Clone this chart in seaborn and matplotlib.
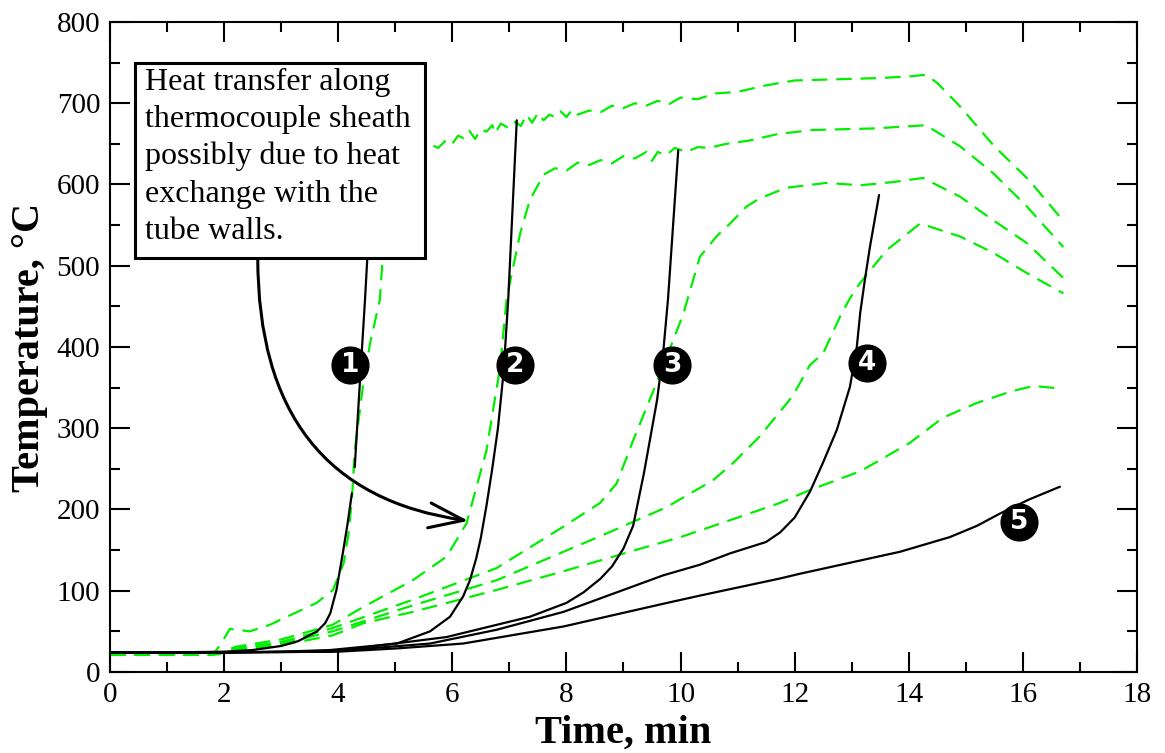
import numpy as np
import pandas as pd
import matplotlib
matplotlib.use("Agg")
import matplotlib.pyplot as plt
from matplotlib.patches import Rectangle
import seaborn as sns

# ---- dados ----
# curvas pretas (sólidas), temperatura x tempo
b1a_t = [0, 1, 2, 2.5, 3, 3.3, 3.63, 3.77, 3.86, 3.97, 4.09, 4.17, 4.24]
b1a_T = [24, 24, 25, 27, 32, 38, 50, 60, 72, 101, 150, 185, 220]
b1b_t = [4.29, 4.38, 4.47, 4.55, 4.62]
b1b_T = [252, 356, 458, 560, 650]

b2_t = [0, 2, 3, 3.86, 5.03, 5.61, 5.96, 6.19, 6.31, 6.42, 6.5, 6.6, 6.7, 6.8, 6.9, 6.98, 7.13]
b2_T = [24, 24, 25, 27, 35, 50, 68, 93, 113, 140, 165, 205, 250, 300, 370, 458, 679]

b3_t = [0, 2, 3.86, 5.9, 7.36, 8.0, 8.3, 8.6, 8.8, 9.0, 9.17, 9.36, 9.59, 9.7, 9.78, 9.96]
b3_T = [24, 24, 25, 43, 68, 85, 98, 115, 130, 152, 180, 245, 335, 396, 458, 642]

b4_t = [0, 2, 4, 5.61, 6.78, 7.95, 9.7, 10.34, 10.87, 11.5, 11.75, 12.0, 12.27, 12.5, 12.74, 12.97, 13.09, 13.15, 13.23, 13.32, 13.48]
b4_T = [24, 24, 26, 35, 52, 74, 119, 132, 146, 160, 172, 190, 222, 258, 298, 351, 400, 442, 482, 523, 587]

b5_t = [0, 2, 4, 5.03, 6.19, 7.95, 9.7, 10.34, 11.74, 12.1, 13.85, 14.72, 15.2, 15.6, 16.1, 16.65]
b5_T = [24, 24, 25, 29, 35, 56, 84, 94, 115, 121, 148, 166, 180, 195, 212, 228]

# curvas verdes (tracejadas)
g1_t = [0, 1.8, 1.95, 2.1, 2.45, 2.8, 3.04, 3.62, 3.91, 4.1, 4.18, 4.24, 4.29, 4.44, 4.56, 4.73, 4.78,
        4.9, 5.0, 5.08, 5.3, 5.45, 5.6, 5.75, 5.9, 6.0, 6.1, 6.2, 6.3, 6.4, 6.5, 6.6, 6.7, 6.75,
        6.85, 7.0, 7.1, 7.2, 7.3, 7.4, 7.5, 7.6, 7.7, 7.8, 7.9, 8.0, 8.1, 8.2, 8.4, 8.6, 8.8,
        9.0, 9.2, 9.4, 9.6, 9.8, 10.0, 10.3, 10.6, 11.0, 11.5, 12.0, 12.5, 13.0, 13.5, 14.0,
        14.3, 14.5, 14.9, 15.5, 16.1, 16.7]
g1_T = [21, 21, 35, 53, 50, 58, 66, 85, 101, 135, 170, 212, 273, 355, 405, 458, 510,
        590, 625, 642, 648, 641, 650, 645, 655, 650, 660, 657, 666, 656, 668, 665, 673, 663,
        675, 669, 677, 672, 686, 676, 688, 679, 686, 683, 690, 683, 692, 686, 691, 689, 697,
        694, 700, 697, 703, 699, 707, 705, 712, 714, 722, 728, 729, 730, 731, 733,
        735, 725, 696, 647, 606, 556]

g2_t = [0, 1.8, 2.0, 2.2, 3.0, 3.9, 4.44, 5.31, 5.9, 6.25, 6.6, 6.84, 6.95, 7.01, 7.19, 7.36, 7.6,
        7.8, 8.0, 8.2, 8.4, 8.6, 8.8, 9.0, 9.2, 9.4, 9.5, 9.6, 9.75, 9.9, 10.1, 10.3, 10.5,
        10.8, 11.2, 11.7, 12.3, 13.4, 14.3, 14.9, 15.48, 16.07, 16.71]
g2_T = [21, 21, 25, 31, 40, 58, 80, 113, 142, 183, 273, 376, 458, 479, 540, 581, 612,
        620, 617, 627, 624, 630, 626, 635, 632, 640, 629, 640, 636, 645, 640, 646, 645,
        650, 654, 662, 667, 669, 673, 647, 614, 573, 523]

g3_t = [0, 1.9, 2.1, 3.0, 3.9, 5.31, 6.78, 7.95, 8.59, 8.88, 9.17, 9.53, 9.76, 10.05, 10.17,
        10.34, 10.63, 10.87, 11.16, 11.39, 11.86, 12.56, 13.15, 13.73, 14.25, 14.9, 15.48, 16.07, 16.71]
g3_T = [21, 22, 28, 37, 54, 89, 128, 179, 208, 232, 285, 347, 388, 441, 470,
        511, 536, 552, 573, 583, 596, 602, 599, 603, 608, 585, 556, 528, 485]

g4_t = [0, 1.9, 2.1, 3.0, 3.9, 5.31, 6.78, 7.95, 8.59, 9.11, 9.76, 10.57, 10.92, 11.39, 11.97,
        12.27, 12.5, 12.8, 12.97, 13.15, 13.61, 14.2, 14.9, 15.48, 16.07, 16.71]
g4_T = [21, 22, 27, 35, 50, 82, 113, 148, 167, 183, 203, 236, 257, 290, 340,
        378, 392, 438, 460, 479, 519, 552, 536, 516, 491, 466]

g5_t = [0, 1.9, 2.1, 3.0, 3.9, 4.44, 5.31, 6.78, 8.0, 9.11, 10.0, 11.0, 11.74, 12.27, 13.15,
        14.02, 14.6, 15.19, 15.78, 16.18, 16.65]
g5_T = [21, 22, 26, 33, 45, 60, 74, 101, 125, 148, 166, 190, 208, 224, 247,
        282, 313, 331, 345, 352, 349]

rotulos = ["1", "2", "3", "4", "5"]
rot_t = [4.21, 7.1, 9.85, 13.27, 15.93]
rot_T = [378, 378, 378, 380, 185]

texto_caixa = ("Heat transfer along\nthermocouple sheath\npossibly due to heat\n"
               "exchange with the\ntube walls.")

# ---- estilo ----
sns.set_style("ticks")
plt.rcParams['font.family'] = ['Liberation Serif', 'DejaVu Serif']
plt.rcParams['xtick.direction'] = 'in'
plt.rcParams['ytick.direction'] = 'in'
for k in ['text.color', 'axes.labelcolor', 'xtick.color', 'ytick.color', 'axes.edgecolor']:
    plt.rcParams[k] = 'black'

fig = plt.figure(figsize=(11.65, 7.53), dpi=100)
ax = fig.add_axes([0.0944, 0.1076, 0.8815, 0.8632])

verde = '#00ee00'
pretas = [(b1a_t, b1a_T), (b1b_t, b1b_T), (b2_t, b2_T), (b3_t, b3_T), (b4_t, b4_T), (b5_t, b5_T)]
verdes = [(g1_t, g1_T), (g2_t, g2_T), (g3_t, g3_T), (g4_t, g4_T), (g5_t, g5_T)]

for t, T in verdes:
    sns.lineplot(x=t, y=T, ax=ax, color=verde, lw=1.6, sort=False, estimator=None,
                 zorder=2).lines[-1].set_dashes((7, 4))
for t, T in pretas:
    sns.lineplot(x=t, y=T, ax=ax, color='black', lw=1.6, sort=False, estimator=None, zorder=3)

# rótulos numerados
ax.scatter(rot_t, rot_T, s=700, color='black', zorder=5)
for r, x, y in zip(rotulos, rot_t, rot_T):
    ax.text(x, y, r, color='white', fontsize=19, fontweight='bold', family='DejaVu Sans',
            ha='center', va='center', zorder=6)

# seta curva
ax.annotate("", xy=(6.28, 186), xytext=(2.59, 510),
            arrowprops=dict(arrowstyle='->,head_length=1.25,head_width=0.45', mutation_scale=20,
                            connectionstyle='angle3,angleA=-90,angleB=-8',
                            lw=2.2, color='black', shrinkA=0, shrinkB=0), zorder=4)

# caixa de texto
ax.add_patch(Rectangle((0.44, 509.5), 5.08, 240, facecolor='white', edgecolor='black',
                       lw=2.2, zorder=7))
ax.text(0.61, 744, texto_caixa, fontsize=23, va='top', ha='left', linespacing=1.37, zorder=8)

ax.set_xlim(0, 18)
ax.set_ylim(0, 800)
ax.set_xticks(np.arange(0, 19, 2))
ax.set_yticks(np.arange(0, 801, 100))
ax.set_xticks(np.arange(0, 19, 1), minor=True)
ax.set_yticks(np.arange(0, 801, 50), minor=True)
ax.tick_params(which='both', top=True, right=True, width=1.5, labelsize=21)
ax.tick_params(which='major', length=14.5, pad=7)
ax.tick_params(which='minor', length=7)
for s in ax.spines.values():
    s.set_linewidth(1.5)

ax.set_xlabel("Time, min", fontsize=29, fontweight='bold', labelpad=5)
ax.set_ylabel("Temperature, °C", fontsize=29, fontweight='bold', labelpad=6)

fig.savefig("out.png", dpi=100)
